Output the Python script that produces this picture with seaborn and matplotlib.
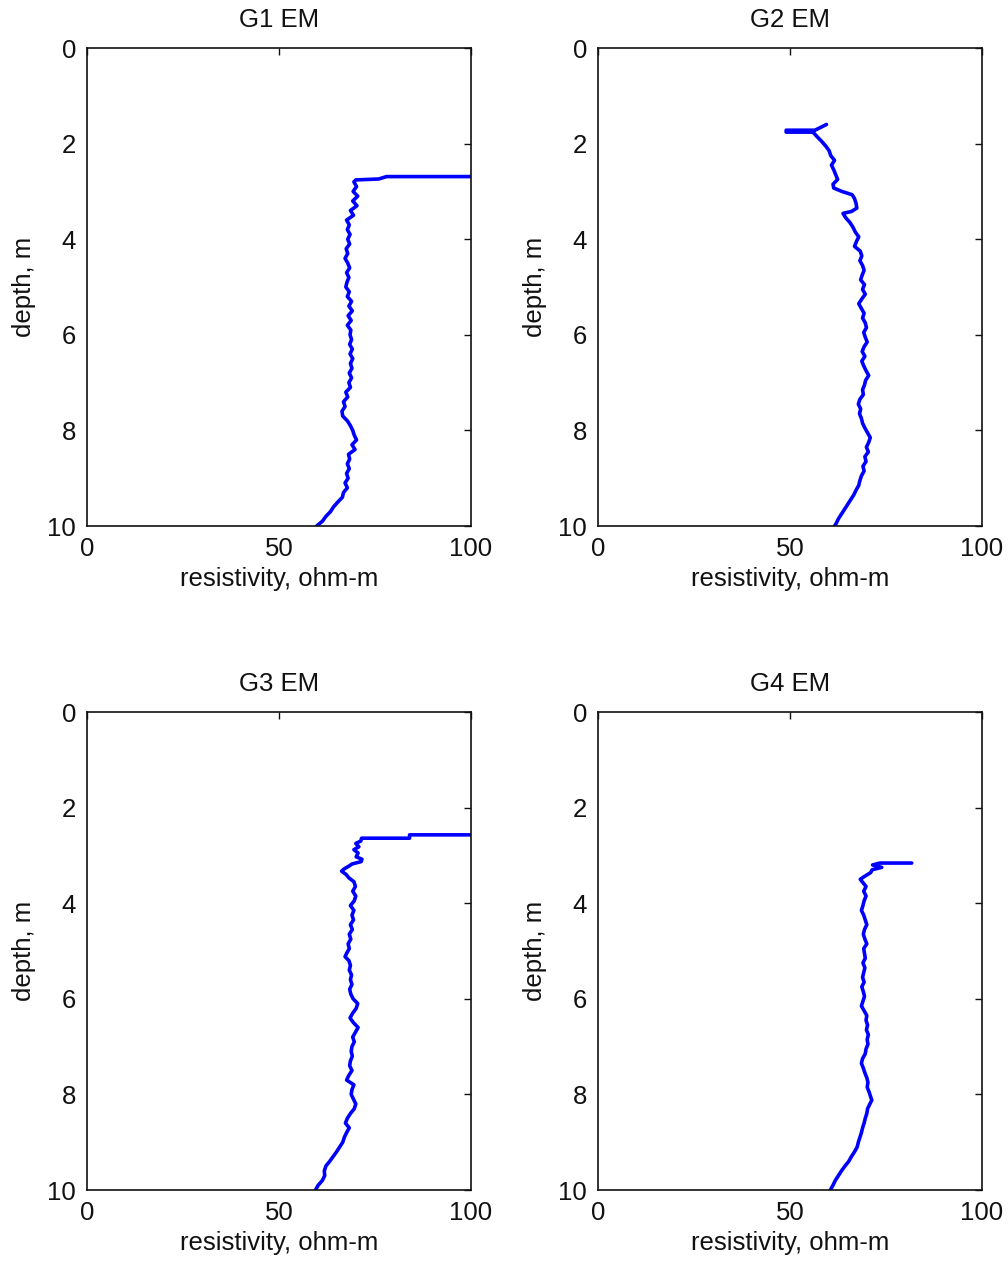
import matplotlib
matplotlib.use("Agg")
import matplotlib.pyplot as plt
import seaborn as sns
import pandas as pd

sns.set_style("white")
plt.rcParams["font.family"] = ["Liberation Sans", "DejaVu Sans"]

# Resistivity logs (depth in m, resistivity in ohm-m) for the four holes
g1_depth = [2.69, 2.69, 2.74, 2.76, 2.80, 2.9, 3.0, 3.1, 3.2, 3.3, 3.4, 3.5, 3.6, 3.7, 3.8, 3.9,
            4.0, 4.1, 4.2, 4.3, 4.4, 4.5, 4.6, 4.7, 4.8, 4.9, 5.0, 5.1, 5.2, 5.3, 5.4, 5.5, 5.6,
            5.7, 5.8, 5.9, 6.0, 6.1, 6.2, 6.3, 6.4, 6.5, 6.6, 6.7, 6.8, 6.9, 7.0, 7.1, 7.2, 7.3,
            7.4, 7.5, 7.6, 7.7, 7.8, 7.9, 8.0, 8.1, 8.2, 8.3, 8.4, 8.5, 8.6, 8.7, 8.8, 8.9, 9.0,
            9.1, 9.2, 9.3, 9.4, 9.5, 9.6, 9.7, 9.8, 9.9, 10.0]
g1_res = [100, 78, 76, 70, 69.5, 70.2, 69.3, 70.5, 69.2, 70.3, 68.6, 69.4, 67.6, 68.3, 67.8, 68.5,
          67.9, 68.4, 67.5, 67.9, 67.2, 67.9, 68.4, 67.6, 68.2, 67.7, 67.4, 68.3, 67.8, 68.9, 68.2,
          69.1, 68.0, 68.8, 67.8, 68.7, 68.5, 68.9, 68.4, 69.1, 68.5, 69.2, 68.6, 69.0, 68.3, 68.9,
          68.2, 68.6, 67.4, 67.9, 66.8, 67.2, 66.4, 66.6, 67.8, 68.6, 69.2, 69.6, 70.2, 69.0, 69.8,
          68.1, 68.4, 67.8, 68.3, 67.6, 68.0, 67.2, 67.8, 66.8, 66.5, 65.3, 64.2, 63.4, 62.2, 61.3,
          59.8]

g2_depth = [1.60, 1.66, 1.72, 1.72, 1.76, 1.76, 1.85, 1.95, 2.05, 2.15, 2.25, 2.35, 2.45, 2.55,
            2.65, 2.75, 2.85, 2.93, 3.0, 3.07, 3.15, 3.25, 3.35, 3.42, 3.46, 3.55, 3.65, 3.75,
            3.85, 3.95, 4.05, 4.15, 4.25, 4.35, 4.45, 4.55, 4.65, 4.75, 4.85, 4.95, 5.05, 5.15,
            5.25, 5.35, 5.45, 5.55, 5.65, 5.75, 5.85, 5.95, 6.05, 6.15, 6.25, 6.35, 6.45, 6.55,
            6.65, 6.75, 6.85, 6.95, 7.05, 7.15, 7.25, 7.35, 7.45, 7.55, 7.65, 7.75, 7.85, 7.95,
            8.05, 8.15, 8.25, 8.35, 8.45, 8.55, 8.65, 8.75, 8.85, 8.95, 9.05, 9.15, 9.25, 9.35,
            9.45, 9.55, 9.65, 9.75, 9.85, 9.95, 10.0]
g2_res = [59.5, 58.0, 56.5, 49.0, 49.0, 56.0, 57.0, 58.2, 59.3, 60.2, 60.6, 61.6, 60.8, 61.4,
          61.9, 62.4, 61.2, 61.4, 63.5, 66.2, 66.8, 67.2, 67.4, 66.0, 63.8, 64.5, 65.6, 66.4,
          67.0, 67.9, 67.3, 66.8, 68.3, 68.7, 68.2, 68.9, 69.3, 68.8, 68.4, 69.4, 68.9, 69.6,
          68.7, 67.9, 68.6, 69.3, 68.9, 69.6, 69.9, 69.2, 69.6, 70.1, 69.3, 68.8, 69.5, 68.7,
          69.2, 69.8, 70.5, 69.7, 69.4, 68.9, 69.1, 68.2, 67.8, 68.4, 68.1, 68.6, 68.9, 69.5,
          70.2, 70.9, 70.5, 69.9, 70.4, 69.5, 69.8, 69.0, 69.3, 68.6, 68.2, 67.9, 67.2, 66.6,
          65.8, 65.0, 64.2, 63.4, 62.6, 62.0, 61.6]

g3_depth = [2.57, 2.57, 2.64, 2.64, 2.70, 2.75, 2.82, 2.88, 2.95, 3.03, 3.08, 3.13, 3.18, 3.22,
            3.28, 3.33, 3.40, 3.47, 3.55, 3.65, 3.75, 3.85, 3.95, 4.05, 4.15, 4.25, 4.35, 4.45,
            4.55, 4.65, 4.75, 4.85, 4.95, 5.05, 5.12, 5.2, 5.3, 5.4, 5.5, 5.6, 5.7, 5.8, 5.9,
            6.0, 6.1, 6.2, 6.3, 6.4, 6.5, 6.6, 6.7, 6.8, 6.9, 7.0, 7.1, 7.2, 7.3, 7.4, 7.5, 7.6,
            7.7, 7.8, 7.9, 8.0, 8.1, 8.2, 8.3, 8.4, 8.5, 8.6, 8.7, 8.8, 8.9, 9.0, 9.1, 9.2, 9.3,
            9.4, 9.5, 9.6, 9.7, 9.8, 9.9, 10.0]
g3_res = [100, 84, 84, 71.5, 71.3, 70.0, 70.8, 69.5, 70.6, 70.1, 71.6, 71.4, 69.0, 68.3,
          67.0, 66.3, 67.5, 68.2, 69.5, 69.9, 69.2, 70.0, 69.6, 68.6, 69.5, 69.0, 69.4, 68.6,
          69.1, 68.3, 68.7, 68.0, 68.3, 67.6, 67.2, 68.2, 68.6, 68.3, 68.9, 68.6, 69.0, 68.4,
          68.7, 69.3, 70.5, 70.1, 69.2, 68.5, 69.4, 70.6, 69.9, 69.2, 69.6, 69.0, 68.8, 69.1,
          68.6, 68.4, 69.0, 68.2, 67.6, 69.5, 69.0, 68.8, 69.4, 70.0, 69.6, 68.6, 67.8, 67.3,
          68.3, 67.6, 67.0, 66.6, 65.8, 65.0, 64.1, 63.2, 62.2, 61.8, 61.9, 61.3, 60.2, 59.5]

g4_depth = [3.16, 3.16, 3.20, 3.25, 3.30, 3.36, 3.40, 3.45, 3.50, 3.57, 3.65, 3.75, 3.85, 3.95,
            4.05, 4.15, 4.25, 4.35, 4.45, 4.55, 4.65, 4.75, 4.85, 4.95, 5.05, 5.15, 5.25, 5.35,
            5.45, 5.55, 5.65, 5.75, 5.85, 5.95, 6.05, 6.15, 6.25, 6.35, 6.45, 6.55, 6.65, 6.75,
            6.85, 6.95, 7.05, 7.15, 7.25, 7.35, 7.45, 7.55, 7.65, 7.75, 7.85, 7.95, 8.05, 8.12,
            8.2, 8.3, 8.4, 8.5, 8.6, 8.7, 8.8, 8.9, 9.0, 9.1, 9.2, 9.3, 9.4, 9.5, 9.6, 9.7, 9.8,
            9.9, 10.0]
g4_res = [81.7, 73.4, 71.5, 73.9, 71.4, 71.0, 70.2, 69.2, 68.3, 69.0, 69.8, 69.2, 69.8, 69.3,
          69.0, 68.6, 69.2, 69.6, 70.0, 69.4, 69.1, 69.5, 70.0, 69.2, 69.4, 69.6, 69.0, 69.5,
          69.2, 68.9, 69.3, 68.7, 69.1, 69.4, 69.0, 68.6, 69.3, 70.0, 69.8, 70.2, 69.9, 70.4,
          70.1, 70.3, 69.8, 69.6, 68.9, 68.6, 69.1, 69.5, 70.0, 70.3, 70.1, 70.6, 71.0, 71.3,
          70.8, 70.2, 70.0, 69.6, 69.3, 68.9, 68.6, 68.2, 67.8, 67.5, 66.8, 66.0, 65.3, 64.3,
          63.4, 62.6, 61.8, 61.2, 60.5]

titles = ["G1 EM", "G2 EM", "G3 EM", "G4 EM"]
x_ticks = [0, 50, 100]
y_ticks = [0, 2, 4, 6, 8, 10]

logs = [(g1_depth, g1_res), (g2_depth, g2_res), (g3_depth, g3_res), (g4_depth, g4_res)]

fig = plt.figure(figsize=(10.08, 12.64), dpi=100)
W, H = 1008, 1264
boxes = [(87, 48), (598, 48), (87, 712), (598, 712)]
aw, ah = 384, 478
ink = "#111111"

for (left, top), title, (depth, res) in zip(boxes, titles, logs):
    ax = fig.add_axes([left / W, 1 - (top + ah) / H, aw / W, ah / H])
    df = pd.DataFrame({"depth": depth, "resistivity": res})
    sns.lineplot(data=df, x="resistivity", y="depth", sort=False, estimator=None,
                 color="#0000ff", linewidth=2.6, ax=ax)
    ax.set_xlim(0, 100)
    ax.set_ylim(10, 0)
    ax.set_xticks(x_ticks)
    ax.set_yticks(y_ticks)
    ax.tick_params(direction="in", length=5, width=1, top=True, right=True,
                   labelsize=18.5, colors=ink, pad=8)
    for s in ax.spines.values():
        s.set_visible(True)
        s.set_color(ink)
        s.set_linewidth(1.2)
    ax.set_title(title, fontsize=18.5, pad=15, color=ink)
    ax.set_xlabel("resistivity, ohm-m", fontsize=18.5, labelpad=4, color=ink)
    ax.set_ylabel("depth, m", fontsize=18.5, labelpad=8, color=ink)

fig.savefig("out.png", dpi=100, facecolor="white")
